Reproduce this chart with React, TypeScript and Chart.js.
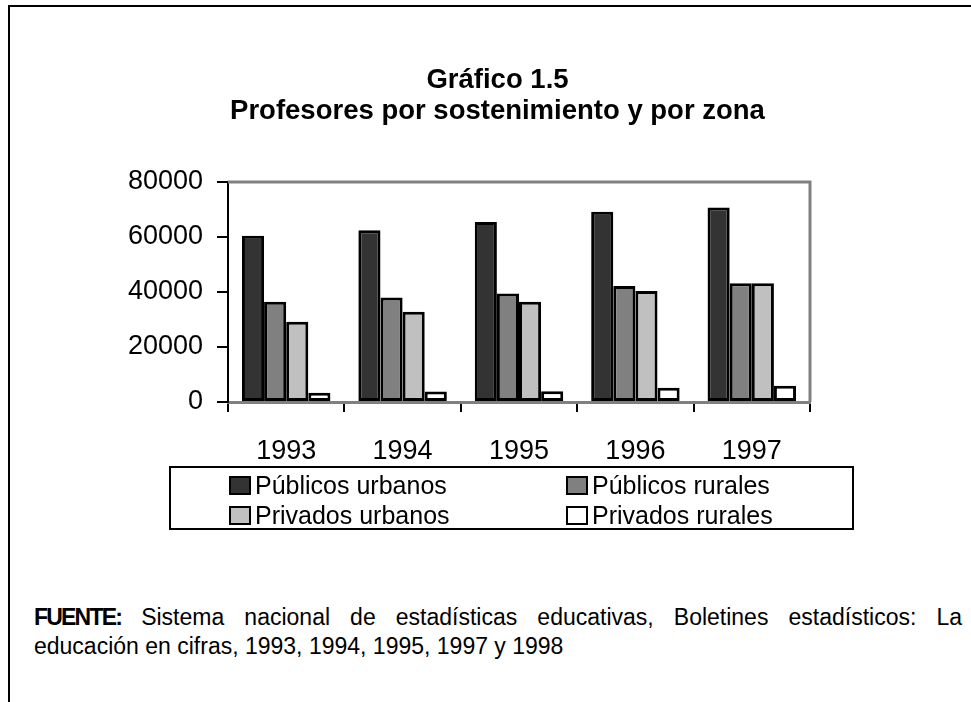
import React, { useEffect, useRef } from "react";
import { Chart, registerables } from "chart.js";

Chart.register(...registerables);

const years = ["1993", "1994", "1995", "1996", "1997"];
const seriesNames = ["Públicos urbanos", "Públicos rurales", "Privados urbanos", "Privados rurales"];
const publicosUrbanos = [60500, 62500, 65500, 69200, 70700];
const publicosRurales = [36500, 38000, 39500, 42200, 43200];
const privadosUrbanos = [29200, 32800, 36500, 40400, 43200];
const privadosRurales = [3400, 3800, 3900, 5200, 5900];
const seriesColors = ["#333333", "#808080", "#c0c0c0", "#ffffff"];
const yTicks = [0, 20000, 40000, 60000, 80000];
const titleLines = ["Gráfico 1.5", "Profesores por sostenimiento y por zona"];
const sourceLabel = "FUENTE:";
const sourceLine1 = "Sistema nacional de estadísticas educativas, Boletines estadísticos: La";
const sourceLine2 = "educación en cifras, 1993, 1994, 1995, 1997 y 1998";

const FONT = "'Liberation Sans', Arial, Helvetica, sans-serif";

const framePlugin = {
  id: "plotFrame",
  beforeDatasetsDraw(chart: any) {
    const { ctx, chartArea } = chart;
    const { left, top, right, bottom } = chartArea;
    ctx.save();
    ctx.strokeStyle = "#808080";
    ctx.lineWidth = 3;
    ctx.beginPath();
    ctx.moveTo(left, top);
    ctx.lineTo(right, top);
    ctx.lineTo(right, bottom);
    ctx.stroke();
    ctx.restore();
  },
};

export default function App() {
  const canvasRef = useRef<HTMLCanvasElement | null>(null);

  useEffect(() => {
    if (!canvasRef.current) return;
    const allSeries = [publicosUrbanos, publicosRurales, privadosUrbanos, privadosRurales];
    const chart = new Chart(canvasRef.current, {
      type: "bar",
      data: {
        labels: years,
        datasets: allSeries.map((vals, i) => ({
          label: seriesNames[i],
          data: vals,
          backgroundColor: seriesColors[i],
          borderColor: "#000000",
          borderWidth: 3,
          borderSkipped: false,
          categoryPercentage: 0.76,
          barPercentage: 1,
        })),
      },
      options: {
        responsive: false,
        animation: false,
        devicePixelRatio: 1,
        layout: { padding: { left: 0, right: 161, top: 182, bottom: 98 } },
        plugins: {
          legend: { display: false },
          tooltip: { enabled: false },
          title: { display: false },
        },
        scales: {
          x: {
            grid: {
              display: true,
              drawOnChartArea: false,
              drawTicks: true,
              tickLength: 10,
              color: "#000000",
              lineWidth: 2,
              offset: true,
            },
            border: { display: true, color: "#808080", width: 3 },
            ticks: {
              color: "#000000",
              font: { family: FONT, size: 27 },
              padding: 23,
              maxRotation: 0,
            },
            afterFit: (scale: any) => {
              scale.height = 60;
            },
          },
          y: {
            min: 0,
            max: 80000,
            grid: {
              display: true,
              drawOnChartArea: false,
              drawTicks: true,
              tickLength: 11,
              color: "#000000",
              lineWidth: 2,
            },
            border: { display: true, color: "#000000", width: 2 },
            ticks: {
              color: "#000000",
              font: { family: FONT, size: 27 },
              padding: 14,
              callback: (v: any) => String(v),
            },
            afterBuildTicks: (scale: any) => {
              scale.ticks = yTicks.map((v) => ({ value: v }));
            },
            afterFit: (scale: any) => {
              scale.width = 228;
            },
          },
        },
      },
      plugins: [framePlugin],
    });
    return () => chart.destroy();
  }, []);

  return (
    <div
      style={{
        position: "absolute",
        left: 0,
        top: 0,
        width: 971,
        height: 702,
        overflow: "hidden",
        background: "#ffffff",
        fontFamily: FONT,
        color: "#000",
      }}
    >
      <div
        style={{
          position: "absolute",
          left: 8,
          top: 5,
          width: 963,
          height: 697,
          borderTop: "2px solid #000",
          borderLeft: "2px solid #000",
          boxSizing: "border-box",
        }}
      />
      <canvas
        ref={canvasRef}
        width={971}
        height={560}
        style={{ position: "absolute", left: 0, top: 0, width: 971, height: 560 }}
      />
      <div
        style={{
          position: "absolute",
          left: 197,
          top: 63,
          width: 601,
          textAlign: "center",
          fontWeight: "bold",
          fontSize: 27.5,
          lineHeight: "31px",
          whiteSpace: "nowrap",
        }}
      >
        {titleLines.map((t) => (
          <div key={t}>{t}</div>
        ))}
      </div>
      <div
        style={{
          position: "absolute",
          left: 169,
          top: 466,
          width: 685,
          height: 64,
          border: "2px solid #000",
          boxSizing: "border-box",
        }}
      />
      {seriesNames.map((name, i) => {
        const col = i % 2;
        const row = Math.floor(i / 2);
        const x = col === 0 ? 229 : 566;
        const y = 470 + row * 30;
        return (
          <div
            key={name}
            style={{
              position: "absolute",
              left: x,
              top: y,
              height: 30,
              lineHeight: "30px",
              fontSize: 25,
              whiteSpace: "nowrap",
            }}
          >
            <span
              style={{
                position: "absolute",
                left: 0,
                top: 6,
                width: 22,
                height: 19,
                background: seriesColors[i],
                border: "2.5px solid #000",
                boxSizing: "border-box",
              }}
            />
            <span style={{ position: "absolute", left: 26, top: 0 }}>{name}</span>
          </div>
        );
      })}
      <div
        style={{
          position: "absolute",
          left: 34,
          top: 603,
          width: 928,
          fontSize: 23,
          lineHeight: "29px",
          textAlign: "justify",
          textAlignLast: "justify" as any,
          whiteSpace: "normal",
        }}
      >
        <b style={{ letterSpacing: "-1.8px" }}>{sourceLabel}</b> {sourceLine1}
      </div>
      <div
        style={{
          position: "absolute",
          left: 34,
          top: 632,
          fontSize: 23,
          lineHeight: "29px",
          whiteSpace: "nowrap",
        }}
      >
        {sourceLine2}
      </div>
    </div>
  );
}
